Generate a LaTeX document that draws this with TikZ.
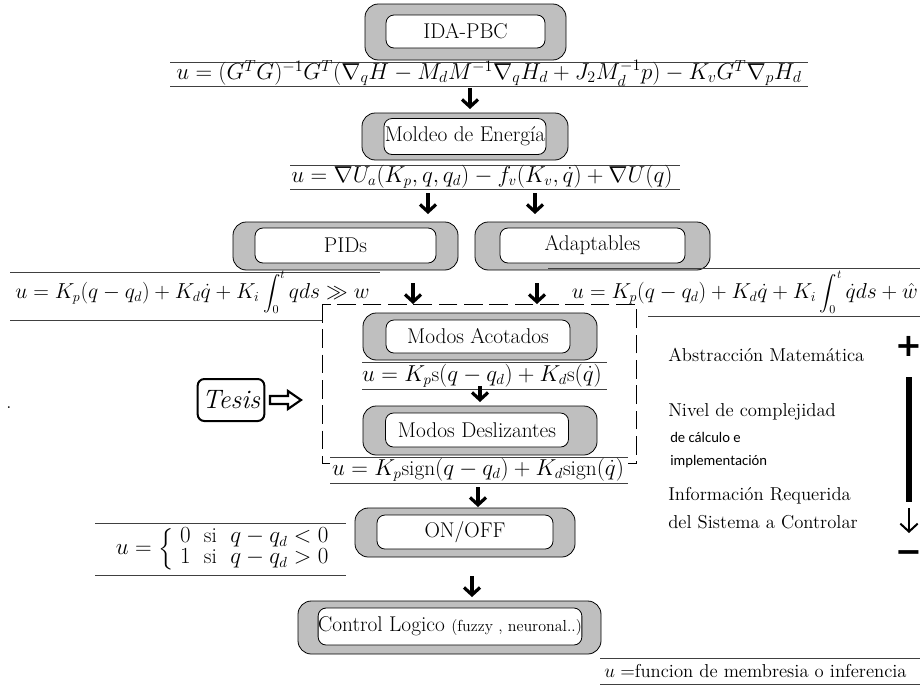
\documentclass[tikz,border=0pt]{standalone}
\usepackage{fontspec}
\usepackage{amsmath}
\usetikzlibrary{arrows.meta}
\newfontfamily\carlito{Carlito}
\newfontfamily\dejavu{DejaVu Sans}
\newcommand\fsz[1]{\fontsize{#1pt}{#1pt}\selectfont}
\newcommand\myint[2]{\mathop{\scalebox{0.8}{$\displaystyle\int_{\scalebox{1.1}{$\scriptstyle #1$}}^{\scalebox{1.1}{$\scriptstyle #2$}}$}}}
\tikzset{
 outerbox/.style={draw=black, line width=0.6pt, fill=gray!50, rounded corners=10pt, inner sep=0pt},
 innerbox/.style={draw=black, line width=0.6pt, fill=white, rounded corners=6pt, inner sep=0pt, font=\fsz{16}},
 formula/.style={inner sep=0pt, font=\fsz{16}},
 hrule/.style={line width=0.7pt, black!75},
 darr/.style={line width=2.4pt, -{Straight Barb[length=5.5pt,width=12pt]}},
 sidetext/.style={anchor=west, inner sep=0pt, font=\fsz{14}},
}
\begin{document}
\begin{tikzpicture}[x=0.75pt,y=-0.75pt]
\useasboundingbox (0,0) rectangle (923,690);
% dashed frame
\draw[line width=0.7pt, dash pattern=on 14pt off 5pt] (322,304) rectangle (636,463);
% boxes
\node[outerbox, minimum width=150.75pt, minimum height=42pt] (idao) at (465.5,32) {};
\node[innerbox, minimum width=119.25pt, minimum height=24.75pt] (ida) at (465.5,31.5) {IDA-PBC};
\node[outerbox, minimum width=154.5pt, minimum height=35.25pt] (molo) at (465,136.5) {};
\node[innerbox, minimum width=121.5pt, minimum height=27pt] (mol) at (465,136.5) {Moldeo de Energía};
\node[outerbox, minimum width=168.75pt, minimum height=36pt] (pido) at (345.5,246) {};
\node[innerbox, minimum width=135.75pt, minimum height=26.25pt] (pid) at (345.5,245.5) {PIDs};
\node[outerbox, minimum width=176.25pt, minimum height=36pt] (adao) at (592.5,246) {};
\node[innerbox, minimum width=138.75pt, minimum height=26.25pt] (ada) at (592.5,245.5) {Adaptables};
\node[outerbox, minimum width=175.5pt, minimum height=35.25pt] (mao) at (480,336.5) {};
\node[innerbox, minimum width=138pt, minimum height=24.75pt] (ma) at (478,336.5) {Modos Acotados};
\node[outerbox, minimum width=175.5pt, minimum height=36.75pt] (mdo) at (480,430.5) {};
\node[innerbox, minimum width=137.25pt, minimum height=25.5pt] (md) at (477,430) {Modos Deslizantes};
\node[outerbox, minimum width=165pt, minimum height=36.75pt] (ono) at (465,532.5) {};
\node[innerbox, minimum width=132pt, minimum height=25.5pt] (on) at (465,532) {ON/OFF};
\node[outerbox, minimum width=227.25pt, minimum height=39.75pt] (clo) at (449.5,627.5) {};
\node[innerbox, minimum width=196.5pt, minimum height=27.75pt] (cl) at (450,626.5) {Control Logico {\fsz{12}(fuzzy , neuronal..)}};
% formulas
\draw[hrule] (170,62) -- (808,62) (170,86) -- (808,86);
\node[formula, font=\fsz{17}] (f1) at (489,73) {$u=(G^TG)^{-1}G^T(\nabla_qH-M_dM^{-1}\nabla_qH_d+J_2M_d^{-1}p)-K_vG^T\nabla_pH_d$};
\draw[hrule] (290,165) -- (680,165) (290,189) -- (680,189);
\node[formula] (f2) at (482,177) {$u=\nabla U_a(K_p,q,q_d)-f_v(K_v,\dot q)+\nabla U(q)$};
\draw[hrule] (10,272) -- (380,272) (10,320) -- (322,320);
\node[formula, anchor=base west] (f3) at (15,298) {\scalebox{0.94}{$u=K_p(q-q_d)+K_d\dot q+K_i\myint{0}{t} q ds\gg w$}};
\draw[hrule] (548,268) -- (920,268) (648,316) -- (920,316);
\node[formula, anchor=base east] (f4) at (918,298) {\scalebox{0.94}{$u=K_p(q-q_d)+K_d\dot q+K_i\myint{0}{t} \dot q ds+\hat w$}};
\draw[hrule] (362,362) -- (607,362) (362,389) -- (607,389);
\node[formula] (f5) at (482,376) {$u=K_p\mathrm{s}(q-q_d)+K_d\mathrm{s}(\dot q)$};
\fill[white] (330,458) rectangle (628,482);
\draw[hrule] (330,457) -- (628,457) (330,483) -- (628,483);
\node[formula] (f6) at (478,470) {$u=K_p\mathrm{sign}(q-q_d)+K_d\mathrm{sign}(\dot q)$};
\draw[hrule] (95,523) -- (346,523) (95,575) -- (346,575);
\node[formula, anchor=east] (f7) at (337,549) {$u=\left\{\begin{array}{lll}0 & \mathrm{si} & q-q_d<0\\ 1 & \mathrm{si} & q-q_d>0\end{array}\right.$};
\draw[hrule] (600,658) -- (920,658) (600,684) -- (920,684);
\node[formula, anchor=west, font=\fsz{14}] (f8) at (604,671) {$u=$funcion de membresia o inferencia};
% arrows
\coordinate (a1s) at (470,88); \coordinate (a1e) at (470,109);
\coordinate (a2s) at (428,193); \coordinate (a2e) at (428,214);
\coordinate (a3s) at (535,193); \coordinate (a3e) at (535,214);
\coordinate (a4s) at (413,283); \coordinate (a4e) at (413,304);
\coordinate (a5s) at (537,283); \coordinate (a5e) at (537,304);
\coordinate (a6s) at (480,386); \coordinate (a6e) at (480,402);
\coordinate (a7s) at (478,487); \coordinate (a7e) at (478,507);
\coordinate (a8s) at (472,576); \coordinate (a8e) at (472,597);
\foreach \i in {1,...,8} {\draw[darr] (a\i s) -- (a\i e);}
% Tesis
\node[draw, line width=1.5pt, rounded corners=5pt, minimum width=50pt, minimum height=31.5pt, inner sep=2pt, font=\fsz{20}\itshape] (tesis) at (231,400) {Tesis};
\draw[line width=1.6pt, line join=miter] (270,396) -- (288,396) -- (288,391) -- (301,400) -- (288,409) -- (288,404) -- (270,404) -- cycle;
\node[font=\fsz{14}] (dot) at (9,408) {.};
% right side scale
\node[sidetext] (abs) at (668,355) {Abstracción Matemática};
\node[sidetext] (niv) at (668,412) {Nivel de complejidad};
\node[sidetext, font=\carlito\fsz{11}] (cal) at (670,437) {de cálculo e};
\node[sidetext, font=\carlito\fsz{11}] (imp) at (670,462) {implementación};
\node[sidetext] (inf) at (668,496) {Información Requerida};
\node[sidetext] (del) at (668,522) {del Sistema a Controlar};
\node[font=\dejavu\bfseries\fsz{24}, inner sep=0pt] (plus) at (909,346) {+};
\node[font=\dejavu\bfseries\fsz{24}, inner sep=0pt] (minus) at (909,557) {−};
\coordinate (bt) at (909,377); \coordinate (bb) at (909,502);
\draw[line width=4pt] (bt) -- (bb);
\coordinate (st) at (909,508); \coordinate (sb) at (909,533);
\draw[line width=1.5pt, -{Straight Barb[length=6pt,width=13pt]}] (st) -- (sb);
\end{tikzpicture}
\end{document}
